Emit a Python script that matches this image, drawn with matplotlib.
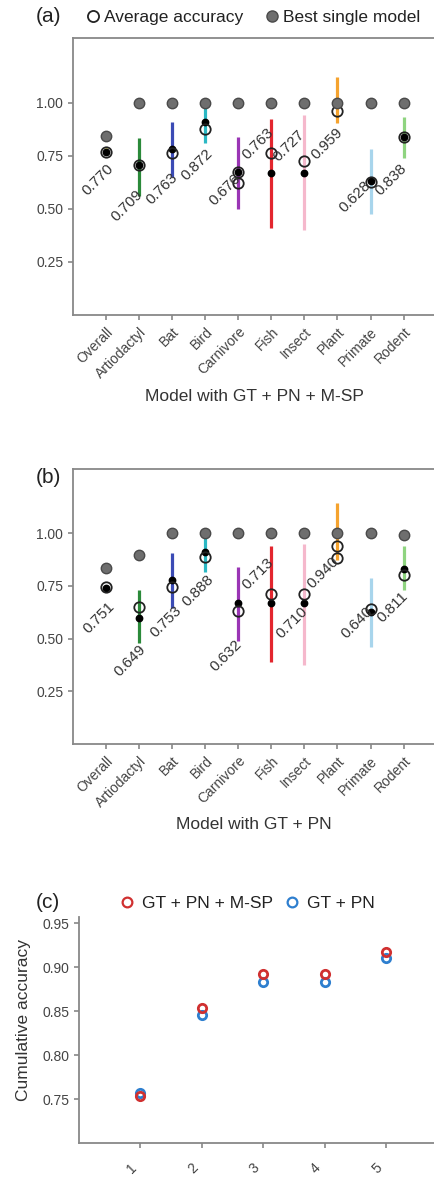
import numpy as np
import matplotlib.pyplot as plt
from matplotlib.lines import Line2D
from matplotlib.transforms import ScaledTranslation

plt.rcParams['font.family'] = ['Liberation Sans', 'DejaVu Sans']

categories = ['Overall', 'Artiodactyl', 'Bat', 'Bird', 'Carnivore',
              'Fish', 'Insect', 'Plant', 'Primate', 'Rodent']
nan = np.nan

# panel (a): GT + PN + M-SP
best_a = [0.845, 1.0, 1.0, 1.0, 1.0, 1.0, 1.0, 1.0, 1.0, 1.0]
avg_a = [0.770, 0.709, 0.763, 0.875, 0.676, 0.763, 0.727, 0.959, 0.628, 0.838]
extra_a = [nan, nan, nan, nan, 0.620, nan, nan, nan, nan, nan]
mid_a = [0.770, 0.709, 0.780, 0.910, 0.676, 0.670, 0.670, 1.0, 0.630, 0.838]
low_a = [0.755, 0.560, 0.650, 0.810, 0.500, 0.410, 0.400, 0.905, 0.475, 0.740]
high_a = [0.785, 0.835, 0.910, 1.000, 0.840, 0.925, 0.943, 1.123, 0.783, 0.935]
text_a = ['0.770', '0.709', '0.763', '0.872', '0.676',
          '0.763', '0.727', '0.959', '0.628', '0.838']

# panel (b): GT + PN
best_b = [0.835, 0.896, 1.0, 1.0, 1.0, 1.0, 1.0, 1.0, 1.0, 0.99]
avg_b = [0.745, 0.649, 0.745, 0.887, 0.632, 0.710, 0.710, 0.940, 0.640, 0.800]
extra_b = [nan, nan, nan, nan, nan, nan, nan, 0.885, nan, nan]
mid_b = [0.740, 0.600, 0.778, 0.910, 0.667, 0.667, 0.667, 1.0, 0.625, 0.830]
low_b = [0.730, 0.480, 0.646, 0.816, 0.490, 0.387, 0.375, 0.873, 0.460, 0.730]
high_b = [0.755, 0.730, 0.905, 1.000, 0.840, 0.940, 0.950, 1.146, 0.790, 0.940]
text_b = ['0.751', '0.649', '0.753', '0.888', '0.632',
          '0.713', '0.710', '0.940', '0.640', '0.811']

# panel (c): cumulative accuracy
top_n = [1, 2, 3, 4, 5]
cum_full = [0.754, 0.853, 0.892, 0.892, 0.917]
cum_gtpn = [0.757, 0.845, 0.883, 0.883, 0.910]

colors = ['#e2e21c', '#2b8a3a', '#3b4bb5', '#2bb8c4', '#9a35b5',
          '#e3262e', '#f5b8cc', '#f5a32e', '#a8d5ec', '#8fd480']

# where the rotated value labels end (right end), data coords
lab_a = [(1.15, 0.70), (2.03, 0.58), (3.09, 0.66), (4.15, 0.77), (5.0, 0.655),
         (6.0, 0.87), (6.94, 0.862), (8.09, 0.872), (8.94, 0.62), (10.03, 0.70)]
lab_b = [(1.2, 0.665), (2.12, 0.46), (3.23, 0.646), (4.2, 0.79), (5.05, 0.485),
         (6.0, 0.873), (7.03, 0.637), (7.97, 0.877), (9.0, 0.64), (10.06, 0.71)]

spine_c = '#888888'
tick_c = '#444444'

fig = plt.figure(figsize=(4.35, 11.8), dpi=100)
W, H = 435, 1180


def style(ax, spines):
    for s in ['top', 'right', 'left', 'bottom']:
        ax.spines[s].set_visible(s in spines)
        ax.spines[s].set_color(spine_c)
        ax.spines[s].set_linewidth(1.3)
    ax.tick_params(colors=spine_c, labelcolor=tick_c, labelsize=10,
                   length=3.5, width=1.2)


def panel(ax, best, avg, extra, mid, low, high, texts, labpos, xlabel):
    x = list(range(1, len(categories) + 1))
    ax.vlines(x, low, high, colors=colors, lw=2.3, zorder=2)
    ax.plot(x, mid, 'o', color='black', ms=4.6, zorder=3, ls='none')
    for vals in (avg, extra):
        ax.plot(x, vals, 'o', mfc='none', mec='#222222', mew=1.3, ms=7.5,
                zorder=4, ls='none')
    ax.plot(x, best, 'o', color='#6e6e6e', mec='#4a4a4a', mew=1, ms=7.5,
            zorder=5, ls='none')
    for t, (lx, ly) in zip(texts, labpos):
        ax.text(lx, ly, t, rotation=45, rotation_mode='anchor', ha='right',
                va='center', fontsize=11, color='#333333', zorder=6)
    ax.set_xlim(0, 10.95)
    ax.set_ylim(0, 1.305)
    ax.set_yticks([0.25, 0.5, 0.75, 1.0])
    ax.set_yticklabels(['0.25', '0.50', '0.75', '1.00'])
    ax.set_xticks(x)
    ax.set_xticklabels(categories, rotation=45, ha='right',
                       rotation_mode='anchor', fontsize=9.5)
    style(ax, ['top', 'left', 'bottom'])
    ax.text(0.5, -0.293, xlabel, transform=ax.transAxes, ha='center',
            va='center', fontsize=12.5, color='#333333')


ax_a = fig.add_axes([73 / W, 1 - 315 / H, (W - 73) / W, 277 / H])
panel(ax_a, best_a, avg_a, extra_a, mid_a, low_a, high_a, text_a, lab_a,
      'Model with GT + PN + M-SP')

ax_b = fig.add_axes([73 / W, 1 - 744 / H, (W - 73) / W, 275 / H])
panel(ax_b, best_b, avg_b, extra_b, mid_b, low_b, high_b, text_b, lab_b,
      'Model with GT + PN')

ax_c = fig.add_axes([79 / W, 1 - 1143 / H, (W - 79) / W, 226 / H])
ax_c.plot(top_n, cum_gtpn, 'o', mfc='none', mec='#2e7fcf', mew=2, ms=6,
          ls='none', label='GT + PN')
ax_c.plot(top_n, cum_full, 'o', mfc='none', mec='#d03030', mew=2, ms=6,
          ls='none', label='GT + PN + M-SP')
ax_c.set_xlim(0, 5.8)
ax_c.set_ylim(0.70, 0.957)
ax_c.set_yticks([0.75, 0.80, 0.85, 0.90, 0.95])
ax_c.set_yticklabels(['0.75', '0.80', '0.85', '0.90', '0.95'])
ax_c.set_xticks(top_n)
ax_c.set_xticklabels([str(n) for n in top_n], rotation=45, ha='center',
                     va='center', rotation_mode='anchor', fontsize=10.5)
style(ax_c, ['left', 'bottom'])
ax_c.tick_params(axis='x', pad=15)
shift = ScaledTranslation(-9 / 100, 0, fig.dpi_scale_trans)
for lbl in ax_c.get_xticklabels():
    lbl.set_transform(lbl.get_transform() + shift)
fig.text(24 / W, 1 - 1020 / H, 'Cumulative accuracy', rotation=90,
         ha='center', va='center', fontsize=12.5, color='#333333')

# panel letters
for lab, yy in [('(a)', 17), ('(b)', 478), ('(c)', 903)]:
    fig.text(36 / W, 1 - yy / H, lab, ha='left', va='center', fontsize=15,
             color='#222222')

# legends
h1 = Line2D([], [], marker='o', ls='none', mfc='none', mec='#222222',
            mew=1.3, ms=8)
h2 = Line2D([], [], marker='o', ls='none', color='#6e6e6e', mec='#4a4a4a',
            ms=8)
fig.legend([h1, h2], ['Average accuracy', 'Best single model'],
           loc='center left', bbox_to_anchor=(86 / W, 1 - 17 / H), ncol=2,
           frameon=False, fontsize=12.5, borderpad=0, borderaxespad=0,
           handlelength=0.8, handletextpad=0.25, columnspacing=1.25,
           labelcolor='#222222')

h3 = Line2D([], [], marker='o', ls='none', mfc='none', mec='#d03030',
            mew=1.6, ms=7)
h4 = Line2D([], [], marker='o', ls='none', mfc='none', mec='#2e7fcf',
            mew=1.6, ms=7)
fig.legend([h3, h4], ['GT + PN + M-SP', 'GT + PN'],
           loc='center left', bbox_to_anchor=(120 / W, 1 - 903 / H), ncol=2,
           frameon=False, fontsize=12.5, borderpad=0, borderaxespad=0,
           handlelength=0.8, handletextpad=0.45, columnspacing=0.7,
           labelcolor='#222222')

fig.savefig('out.png', dpi=100)
